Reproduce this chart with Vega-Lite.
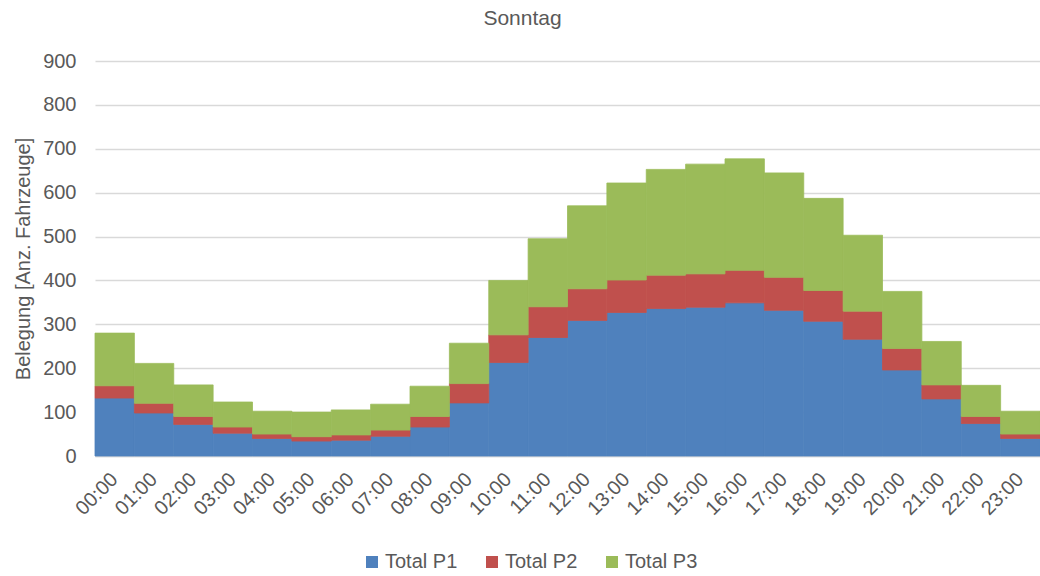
{
  "$schema": "https://vega.github.io/schema/vega-lite/v6.json",
  "width": 945,
  "height": 395,
  "autosize": {"type": "none"},
  "padding": {"left": 95, "top": 61, "right": 0, "bottom": 120},
  "background": "white",
  "title": {"text": "Sonntag", "fontSize": 21, "font": "Liberation Sans", "fontWeight": "normal", "color": "#595959", "anchor": "middle", "frame": "group", "dx": -45, "offset": 22},
  "data": {"values": [
    {"hour": "00:00", "series": "Total P1", "value": 132},
    {"hour": "01:00", "series": "Total P1", "value": 98},
    {"hour": "02:00", "series": "Total P1", "value": 72},
    {"hour": "03:00", "series": "Total P1", "value": 52},
    {"hour": "04:00", "series": "Total P1", "value": 40},
    {"hour": "05:00", "series": "Total P1", "value": 34},
    {"hour": "06:00", "series": "Total P1", "value": 36},
    {"hour": "07:00", "series": "Total P1", "value": 45},
    {"hour": "08:00", "series": "Total P1", "value": 66},
    {"hour": "09:00", "series": "Total P1", "value": 121},
    {"hour": "10:00", "series": "Total P1", "value": 213},
    {"hour": "11:00", "series": "Total P1", "value": 270},
    {"hour": "12:00", "series": "Total P1", "value": 309},
    {"hour": "13:00", "series": "Total P1", "value": 327},
    {"hour": "14:00", "series": "Total P1", "value": 336},
    {"hour": "15:00", "series": "Total P1", "value": 339},
    {"hour": "16:00", "series": "Total P1", "value": 349},
    {"hour": "17:00", "series": "Total P1", "value": 332},
    {"hour": "18:00", "series": "Total P1", "value": 307},
    {"hour": "19:00", "series": "Total P1", "value": 266},
    {"hour": "20:00", "series": "Total P1", "value": 196},
    {"hour": "21:00", "series": "Total P1", "value": 130},
    {"hour": "22:00", "series": "Total P1", "value": 74},
    {"hour": "23:00", "series": "Total P1", "value": 40},
    {"hour": "00:00", "series": "Total P2", "value": 28},
    {"hour": "01:00", "series": "Total P2", "value": 22},
    {"hour": "02:00", "series": "Total P2", "value": 18},
    {"hour": "03:00", "series": "Total P2", "value": 14},
    {"hour": "04:00", "series": "Total P2", "value": 10},
    {"hour": "05:00", "series": "Total P2", "value": 10},
    {"hour": "06:00", "series": "Total P2", "value": 12},
    {"hour": "07:00", "series": "Total P2", "value": 14},
    {"hour": "08:00", "series": "Total P2", "value": 24},
    {"hour": "09:00", "series": "Total P2", "value": 44},
    {"hour": "10:00", "series": "Total P2", "value": 63},
    {"hour": "11:00", "series": "Total P2", "value": 70},
    {"hour": "12:00", "series": "Total P2", "value": 72},
    {"hour": "13:00", "series": "Total P2", "value": 74},
    {"hour": "14:00", "series": "Total P2", "value": 76},
    {"hour": "15:00", "series": "Total P2", "value": 76},
    {"hour": "16:00", "series": "Total P2", "value": 74},
    {"hour": "17:00", "series": "Total P2", "value": 75},
    {"hour": "18:00", "series": "Total P2", "value": 70},
    {"hour": "19:00", "series": "Total P2", "value": 64},
    {"hour": "20:00", "series": "Total P2", "value": 49},
    {"hour": "21:00", "series": "Total P2", "value": 32},
    {"hour": "22:00", "series": "Total P2", "value": 16},
    {"hour": "23:00", "series": "Total P2", "value": 10},
    {"hour": "00:00", "series": "Total P3", "value": 120},
    {"hour": "01:00", "series": "Total P3", "value": 91},
    {"hour": "02:00", "series": "Total P3", "value": 72},
    {"hour": "03:00", "series": "Total P3", "value": 57},
    {"hour": "04:00", "series": "Total P3", "value": 52},
    {"hour": "05:00", "series": "Total P3", "value": 56},
    {"hour": "06:00", "series": "Total P3", "value": 57},
    {"hour": "07:00", "series": "Total P3", "value": 59},
    {"hour": "08:00", "series": "Total P3", "value": 69},
    {"hour": "09:00", "series": "Total P3", "value": 92},
    {"hour": "10:00", "series": "Total P3", "value": 124},
    {"hour": "11:00", "series": "Total P3", "value": 155},
    {"hour": "12:00", "series": "Total P3", "value": 189},
    {"hour": "13:00", "series": "Total P3", "value": 221},
    {"hour": "14:00", "series": "Total P3", "value": 241},
    {"hour": "15:00", "series": "Total P3", "value": 250},
    {"hour": "16:00", "series": "Total P3", "value": 254},
    {"hour": "17:00", "series": "Total P3", "value": 238},
    {"hour": "18:00", "series": "Total P3", "value": 210},
    {"hour": "19:00", "series": "Total P3", "value": 173},
    {"hour": "20:00", "series": "Total P3", "value": 130},
    {"hour": "21:00", "series": "Total P3", "value": 99},
    {"hour": "22:00", "series": "Total P3", "value": 71},
    {"hour": "23:00", "series": "Total P3", "value": 52}
  ]},
  "mark": {"type": "bar", "strokeWidth": 0.8},
  "encoding": {
    "x": {
      "field": "hour", "type": "ordinal",
      "scale": {"paddingInner": 0, "paddingOuter": 0},
      "axis": {"title": null, "labelAngle": -45, "labelAlign": "right", "labelBaseline": "middle", "labelFontSize": 20, "labelFont": "Liberation Sans", "labelColor": "#595959", "labelPadding": 20, "ticks": false, "domainColor": "#d9d9d9", "domainWidth": 1.5, "grid": false}
    },
    "y": {
      "field": "value", "type": "quantitative", "stack": "zero",
      "scale": {"domain": [0, 900], "nice": false},
      "axis": {"title": "Belegung [Anz. Fahrzeuge]", "titleFontSize": 20, "titleFont": "Liberation Sans", "titleFontWeight": "normal", "titleColor": "#595959", "titlePadding": 9, "values": [0, 100, 200, 300, 400, 500, 600, 700, 800, 900], "labelFontSize": 20, "labelFont": "Liberation Sans", "labelColor": "#595959", "labelPadding": 19, "ticks": false, "domain": false, "gridColor": "#d9d9d9", "gridWidth": 1.5}
    },
    "color": {
      "field": "series", "type": "nominal",
      "scale": {"domain": ["Total P1", "Total P2", "Total P3"], "range": ["#4F81BD", "#C0504D", "#9BBB59"]},
      "legend": {"orient": "none", "legendX": 267, "legendY": 491, "direction": "horizontal", "title": null, "symbolType": "square", "symbolSize": 144, "symbolStrokeWidth": 0, "labelFontSize": 20, "labelFont": "Liberation Sans", "labelColor": "#595959", "labelOffset": 3, "columnPadding": 24}
    },
    "stroke": {
      "field": "series", "type": "nominal",
      "scale": {"domain": ["Total P1", "Total P2", "Total P3"], "range": ["#4F81BD", "#C0504D", "#9BBB59"]},
      "legend": null
    },
    "order": {"field": "series", "sort": "ascending"}
  },
  "config": {"view": {"stroke": null}, "font": "Liberation Sans"}
}
